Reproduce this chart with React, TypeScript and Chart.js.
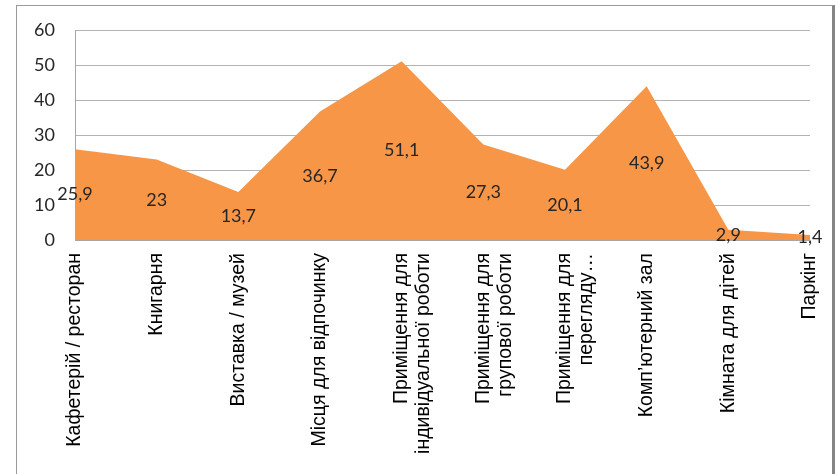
import React, { useEffect, useRef } from "react";
import { Chart, registerables } from "chart.js";

Chart.register(...registerables);

const categories: (string | string[])[] = [
  "Кафетерій / ресторан",
  "Книгарня",
  "Виставка / музей",
  "Місця для відпочинку",
  ["Приміщення для", "індивідуальної роботи"],
  ["Приміщення для", "групової роботи"],
  ["Приміщення для", "перегляду…"],
  "Комп’ютерний зал",
  "Кімната для дітей",
  "Паркінг",
];

const values: number[] = [25.9, 23, 13.7, 36.7, 51.1, 27.3, 20.1, 43.9, 2.9, 1.4];

const yTicks: number[] = [0, 10, 20, 30, 40, 50, 60];

const AREA_COLOR = "#F79646";
const NUM_FONT = "Lato, 'Open Sans', sans-serif";
const LABEL_FONT = "'Liberation Sans', Arial, sans-serif";

const dataLabelPlugin = {
  id: "midLabels",
  afterDatasetsDraw(chart: any) {
    const ctx = chart.ctx;
    const meta = chart.getDatasetMeta(0);
    const yScale = chart.scales.y;
    ctx.save();
    ctx.font = `18px ${NUM_FONT}`;
    ctx.fillStyle = "#262626";
    ctx.textAlign = "center";
    ctx.textBaseline = "middle";
    meta.data.forEach((pt: any, i: number) => {
      const v = values[i];
      const y = yScale.getPixelForValue(v / 2);
      ctx.fillText(String(v).replace(".", ","), pt.x, y);
    });
    ctx.restore();
  },
};

export default function App() {
  const canvasRef = useRef<HTMLCanvasElement | null>(null);

  useEffect(() => {
    const canvas = canvasRef.current;
    if (!canvas) return;
    const chart = new Chart(canvas, {
      type: "line",
      data: {
        labels: categories,
        datasets: [
          {
            data: values,
            backgroundColor: AREA_COLOR,
            borderColor: AREA_COLOR,
            borderWidth: 0,
            pointRadius: 0,
            fill: "origin",
            tension: 0,
          },
        ],
      },
      options: {
        responsive: false,
        animation: false,
        devicePixelRatio: 1,
        layout: { padding: { left: 0, right: 26, top: 30, bottom: 0 } },
        plugins: {
          legend: { display: false },
          tooltip: { enabled: false },
        },
        scales: {
          x: {
            type: "category",
            offset: false,
            grid: { display: false, drawTicks: false },
            border: { display: true, color: "#a6a6a6", width: 1 },
            ticks: {
              autoSkip: false,
              maxRotation: 90,
              minRotation: 90,
              padding: 13,
              color: "#000000",
              font: { family: LABEL_FONT, size: 19.5, lineHeight: 1.13 },
            },
            afterFit(scale: any) {
              scale.height = 474 - 240;
              scale.paddingLeft = 0;
              scale.paddingRight = 0;
            },
          },
          y: {
            min: 0,
            max: 60,
            afterBuildTicks(scale: any) {
              scale.ticks = yTicks.map((v) => ({ value: v }));
            },
            grid: { color: "#b3b3b3", lineWidth: 1, drawTicks: false },
            border: { display: true, color: "#a6a6a6", width: 1 },
            ticks: {
              padding: 20,
              color: "#262626",
              font: { family: NUM_FONT, size: 18 },
            },
            afterFit(scale: any) {
              scale.width = 75;
              scale.paddingTop = 0;
              scale.paddingBottom = 0;
            },
          },
        },
      },
      plugins: [dataLabelPlugin],
    });
    return () => chart.destroy();
  }, []);

  return (
    <div
      style={{
        position: "absolute",
        left: 0,
        top: 0,
        width: 836,
        height: 474,
        background: "#ffffff",
        overflow: "hidden",
      }}
    >
      <div
        style={{
          position: "absolute",
          left: 16,
          top: 5,
          width: 819,
          height: 480,
          borderLeft: "1px solid #9a9a9a",
          borderTop: "1px solid #9a9a9a",
          borderRight: "3px solid #858585",
          boxSizing: "border-box",
        }}
      />
      <canvas
        ref={canvasRef}
        width={836}
        height={474}
        style={{ position: "absolute", left: 0, top: 0, width: 836, height: 474 }}
      />
    </div>
  );
}
